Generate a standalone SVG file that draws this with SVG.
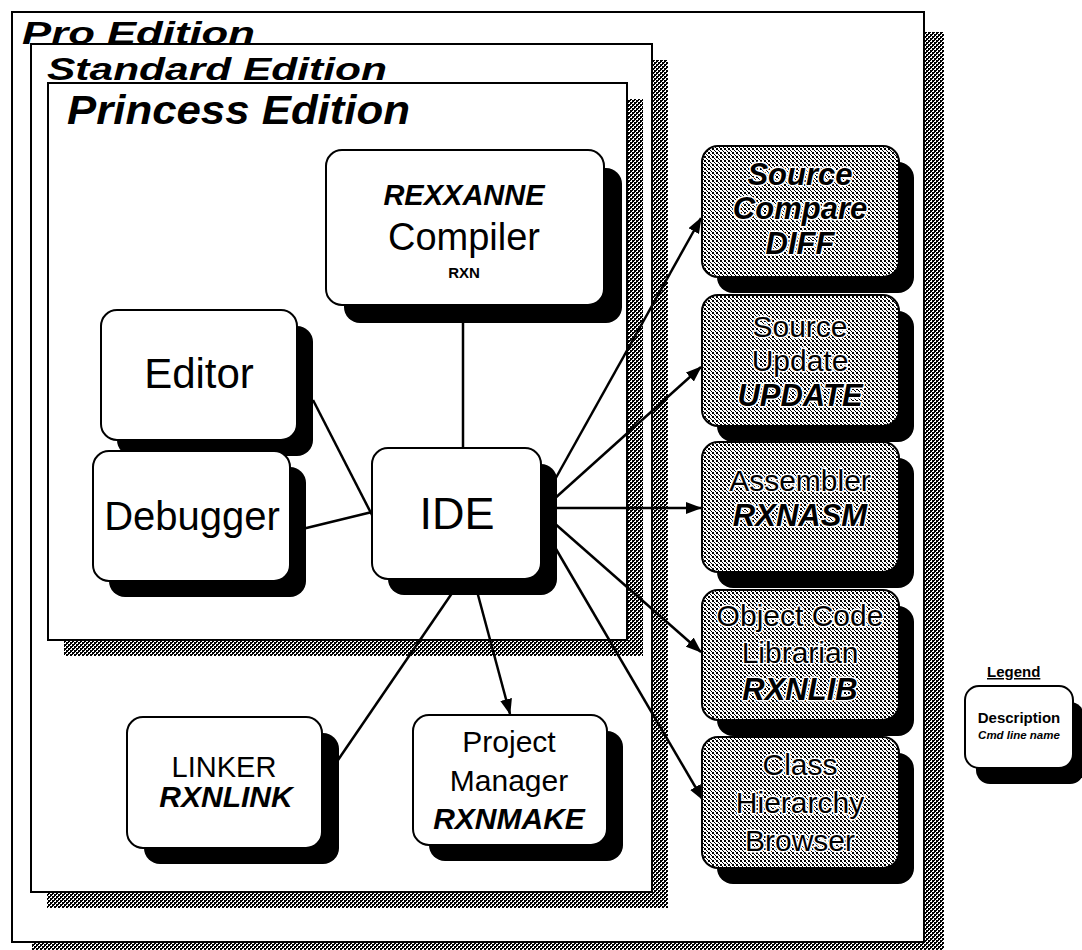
<svg xmlns="http://www.w3.org/2000/svg" width="1082" height="950" viewBox="0 0 1082 950">
<defs>
<pattern id="dark" width="4" height="4" patternUnits="userSpaceOnUse">
<rect width="4" height="4" fill="#fff"/>
<rect x="0" y="0" width="2" height="2" fill="#000"/>
<rect x="2" y="2" width="2" height="2" fill="#000"/>
<rect x="2" y="0" width="1" height="1" fill="#000"/>
<rect x="0" y="2" width="1" height="1" fill="#000"/>
</pattern>
<pattern id="grey" width="4" height="4" patternUnits="userSpaceOnUse">
<rect width="4" height="4" fill="#fff"/>
<rect x="0" y="0" width="2" height="2" fill="#000"/>
<rect x="2" y="2" width="1" height="1" fill="#000"/>
<rect x="3" y="3" width="1" height="1" fill="#000"/>
</pattern>
<marker id="arr" markerUnits="userSpaceOnUse" markerWidth="16" markerHeight="12" refX="15" refY="6" orient="auto">
<path d="M0,0 L16,6 L0,12 z" fill="#000"/>
</marker>
</defs>
<style>
text{font-family:"Liberation Sans",Arial,sans-serif;fill:#000;text-anchor:middle}
.title{font-weight:bold;font-style:italic;text-anchor:start}
.frame{fill:#fff;stroke:#000;stroke-width:2}
.fshadow{fill:url(#dark)}
.box{fill:#fff;stroke:#000;stroke-width:2}
.gbox{fill:url(#grey);stroke:#000;stroke-width:2}
.shadow{fill:#000}
.bi{font-weight:bold;font-style:italic}
.b{font-weight:bold}
.gt{stroke:#fff;stroke-width:3;paint-order:stroke;stroke-linejoin:round}
.conn{stroke:#000;stroke-width:2.5;fill:none}
</style>
<rect width="1082" height="950" fill="#fff"/>

<g id="pro-edition">
<rect class="fshadow" x="32" y="32" width="912" height="930"/>
<rect class="frame" x="12" y="12" width="912" height="930"/>
</g>
<g id="standard-edition">
<rect class="fshadow" x="47" y="60" width="621" height="848"/>
<rect class="frame" x="31" y="44" width="621" height="848"/>
</g>
<g id="princess-edition">
<rect class="fshadow" x="64" y="99" width="579" height="557"/>
<rect class="frame" x="48" y="83" width="579" height="557"/>
</g>
<g id="titles">
<text class="title" x="22" y="44" font-size="31" textLength="233" lengthAdjust="spacingAndGlyphs">Pro Edition</text>
<text class="title" x="47" y="80" font-size="32" textLength="340" lengthAdjust="spacingAndGlyphs">Standard Edition</text>
<text class="title" x="67" y="124" font-size="40" textLength="343" lengthAdjust="spacingAndGlyphs">Princess Edition</text>
</g>

<g id="connectors">
<line class="conn" x1="463" y1="305" x2="463" y2="448"/>
<line class="conn" x1="313" y1="400" x2="372" y2="515"/>
<line class="conn" x1="290" y1="532" x2="372" y2="512"/>
<line class="conn" x1="461" y1="580" x2="338" y2="760"/>
<line class="conn" x1="474" y1="580" x2="510" y2="714" marker-end="url(#arr)"/>
<line class="conn" x1="548" y1="492" x2="701" y2="218" marker-end="url(#arr)"/>
<line class="conn" x1="553" y1="500" x2="701" y2="367" marker-end="url(#arr)"/>
<line class="conn" x1="556" y1="508" x2="701" y2="508" marker-end="url(#arr)"/>
<line class="conn" x1="553" y1="522" x2="701" y2="652" marker-end="url(#arr)"/>
<line class="conn" x1="546" y1="532" x2="703" y2="800" marker-end="url(#arr)"/>
</g>

<g id="compiler">
<rect class="shadow" x="344" y="168" width="278" height="155" rx="16"/>
<rect class="box" x="326" y="150" width="278" height="155" rx="16"/>
<text class="bi" x="464" y="205" font-size="29">REXXANNE</text>
<text x="464" y="250" font-size="38">Compiler</text>
<text class="b" x="464" y="278" font-size="15">RXN</text>
</g>
<g id="editor">
<rect class="shadow" x="117" y="326" width="196" height="130" rx="16"/>
<rect class="box" x="101" y="310" width="196" height="130" rx="16"/>
<text x="199" y="388" font-size="42">Editor</text>
</g>
<g id="debugger">
<rect class="shadow" x="109" y="467" width="197" height="130" rx="16"/>
<rect class="box" x="93" y="451" width="197" height="130" rx="16"/>
<text x="192" y="530" font-size="40">Debugger</text>
</g>
<g id="ide">
<rect class="shadow" x="388" y="464" width="169" height="131" rx="16"/>
<rect class="box" x="372" y="448" width="169" height="131" rx="16"/>
<text x="457" y="529" font-size="45">IDE</text>
</g>
<g id="linker">
<rect class="shadow" x="144" y="733" width="195" height="131" rx="16"/>
<rect class="box" x="127" y="717" width="195" height="131" rx="16"/>
<text x="224" y="777" font-size="29">LINKER</text>
<text class="bi" x="226" y="807" font-size="30">RXNLINK</text>
</g>
<g id="project-manager">
<rect class="shadow" x="429" y="731" width="194" height="130" rx="16"/>
<rect class="box" x="413" y="715" width="194" height="130" rx="16"/>
<text x="509" y="752" font-size="30">Project</text>
<text x="509" y="791" font-size="30">Manager</text>
<text class="bi" x="509" y="829" font-size="30">RXNMAKE</text>
</g>

<g id="source-compare">
<rect class="shadow" x="717" y="162" width="197" height="131" rx="16"/>
<rect class="gbox" x="702" y="146" width="197" height="131" rx="16"/>
<text class="bi gt" x="800" y="185" font-size="31">Source</text>
<text class="bi gt" x="800" y="219" font-size="31">Compare</text>
<text class="bi gt" x="800" y="254" font-size="31">DIFF</text>
</g>
<g id="source-update">
<rect class="shadow" x="717" y="311" width="197" height="131" rx="16"/>
<rect class="gbox" x="702" y="295" width="197" height="131" rx="16"/>
<text class="gt" x="800" y="337" font-size="30">Source</text>
<text class="gt" x="800" y="371" font-size="30">Update</text>
<text class="bi gt" x="800" y="406" font-size="31">UPDATE</text>
</g>
<g id="assembler">
<rect class="shadow" x="717" y="458" width="197" height="130" rx="16"/>
<rect class="gbox" x="702" y="442" width="197" height="130" rx="16"/>
<text class="gt" x="800" y="491" font-size="30">Assembler</text>
<text class="bi gt" x="800" y="526" font-size="31">RXNASM</text>
</g>
<g id="librarian">
<rect class="shadow" x="717" y="606" width="197" height="130" rx="16"/>
<rect class="gbox" x="702" y="590" width="197" height="130" rx="16"/>
<text class="gt" x="800" y="626" font-size="30">Object Code</text>
<text class="gt" x="800" y="663" font-size="30">Librarian</text>
<text class="bi gt" x="800" y="700" font-size="31">RXNLIB</text>
</g>
<g id="class-browser">
<rect class="shadow" x="717" y="753" width="197" height="131" rx="16"/>
<rect class="gbox" x="702" y="737" width="197" height="131" rx="16"/>
<text class="gt" x="800" y="775" font-size="30">Class</text>
<text class="gt" x="800" y="813" font-size="30">Hierarchy</text>
<text class="gt" x="800" y="851" font-size="30">Browser</text>
</g>

<g id="legend">
<text class="b" x="987" y="677" font-size="15" text-decoration="underline" style="text-anchor:start">Legend</text>
<rect class="shadow" x="976" y="702" width="108" height="82" rx="14"/>
<rect class="box" x="965" y="686" width="108" height="82" rx="14"/>
<text class="b" x="1019" y="723" font-size="15">Description</text>
<text class="bi" x="1019" y="739" font-size="11.5">Cmd line name</text>
</g>
</svg>
